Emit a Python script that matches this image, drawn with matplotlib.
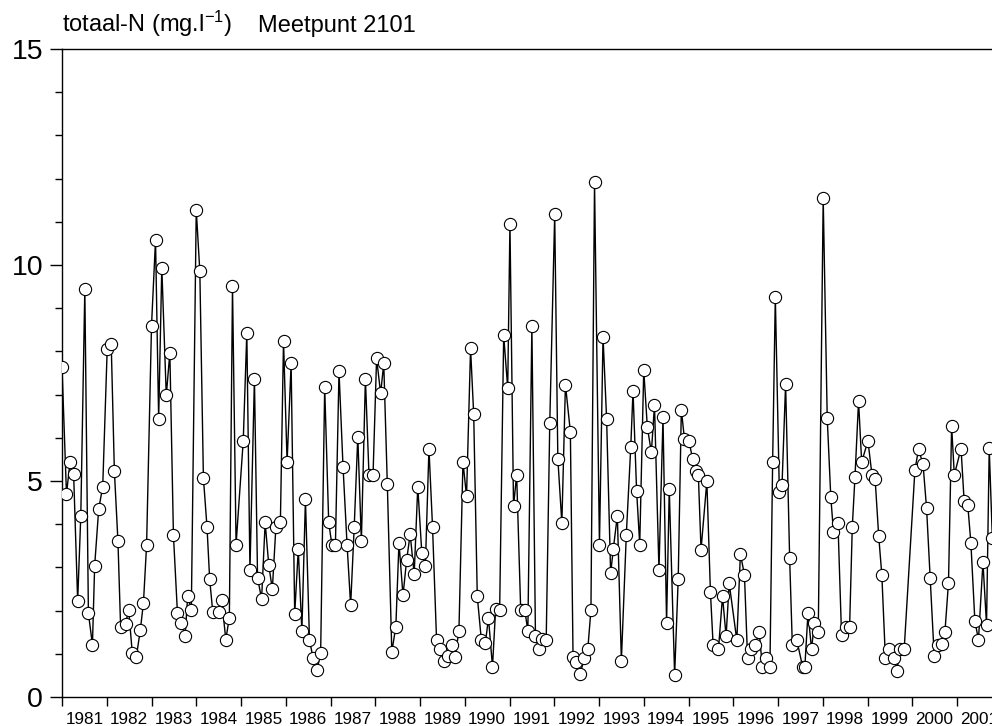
import matplotlib
matplotlib.use("Agg")
import matplotlib.pyplot as plt
from matplotlib.ticker import MultipleLocator, FixedLocator, NullFormatter

plt.rcParams['font.family'] = ['Liberation Sans', 'DejaVu Sans']
plt.rcParams['mathtext.fontset'] = 'custom'
plt.rcParams['mathtext.rm'] = 'Liberation Sans'
plt.rcParams['mathtext.it'] = 'Liberation Sans:italic'
plt.rcParams['mathtext.default'] = 'regular'

# sampling dates (decimal years) and total-N values (mg/l)
dates = [
    1981.00, 1981.10, 1981.18, 1981.26, 1981.35, 1981.42, 1981.51, 1981.59, 1981.68, 1981.73,
    1981.82, 1981.91, 1982.01, 1982.10, 1982.17, 1982.25, 1982.31, 1982.42, 1982.49, 1982.57,
    1982.66, 1982.75, 1982.82, 1982.89, 1983.00, 1983.09, 1983.16, 1983.23, 1983.33, 1983.41,
    1983.49, 1983.58, 1983.67, 1983.75, 1983.81, 1983.89, 1984.00, 1984.08, 1984.16, 1984.24,
    1984.30, 1984.37, 1984.50, 1984.57, 1984.66, 1984.74, 1984.81, 1984.89, 1985.05, 1985.13,
    1985.20, 1985.30, 1985.37, 1985.46, 1985.54, 1985.62, 1985.70, 1985.78, 1985.88, 1985.95,
    1986.03, 1986.12, 1986.20, 1986.28, 1986.36, 1986.44, 1986.53, 1986.61, 1986.70, 1986.78,
    1986.87, 1986.96, 1987.03, 1987.11, 1987.19, 1987.28, 1987.37, 1987.45, 1987.53, 1987.61,
    1987.69, 1987.78, 1987.86, 1987.95, 1988.03, 1988.12, 1988.19, 1988.27, 1988.37, 1988.46,
    1988.53, 1988.62, 1988.70, 1988.78, 1988.87, 1988.95, 1989.04, 1989.12, 1989.20, 1989.28,
    1989.37, 1989.45, 1989.54, 1989.62, 1989.71, 1989.78, 1989.87, 1989.96, 1990.04, 1990.13,
    1990.20, 1990.28, 1990.37, 1990.46, 1990.53, 1990.62, 1990.69, 1990.78, 1990.87, 1990.96,
    1991.01, 1991.09, 1991.16, 1991.25, 1991.34, 1991.41, 1991.50, 1991.58, 1991.65, 1991.72,
    1991.82, 1991.90, 1992.01, 1992.08, 1992.17, 1992.25, 1992.36, 1992.42, 1992.49, 1992.58,
    1992.67, 1992.75, 1992.82, 1992.90, 1993.01, 1993.09, 1993.17, 1993.26, 1993.32, 1993.41,
    1993.50, 1993.61, 1993.71, 1993.76, 1993.84, 1993.91, 1994.00, 1994.08, 1994.17, 1994.24,
    1994.34, 1994.43, 1994.51, 1994.57, 1994.69, 1994.77, 1994.84, 1994.91, 1995.01, 1995.09,
    1995.16, 1995.22, 1995.28, 1995.41, 1995.49, 1995.55, 1995.67, 1995.76, 1995.84, 1995.91,
    1996.08, 1996.16, 1996.25, 1996.32, 1996.39, 1996.49, 1996.58, 1996.65, 1996.73, 1996.82,
    1996.88, 1996.94, 1997.03, 1997.09, 1997.17, 1997.26, 1997.32, 1997.42, 1997.55, 1997.60,
    1997.67, 1997.75, 1997.81, 1997.90, 1998.01, 1998.10, 1998.18, 1998.24, 1998.34, 1998.42,
    1998.51, 1998.60, 1998.66, 1998.72, 1998.80, 1998.87, 1999.01, 1999.10, 1999.17, 1999.25,
    1999.32, 1999.40, 1999.47, 1999.60, 1999.66, 1999.72, 1999.82, 2000.06, 2000.14, 2000.24,
    2000.32, 2000.40, 2000.49, 2000.57, 2000.66, 2000.73, 2000.81, 2000.88, 2000.94, 2001.09,
    2001.16, 2001.24, 2001.31, 2001.40, 2001.48, 2001.58, 2001.66, 2001.72, 2001.79,
]
totaal_n = [
    7.64, 4.70, 5.44, 5.16, 2.22, 4.20, 9.45, 1.94, 1.21, 3.04,
    4.35, 4.87, 8.05, 8.17, 5.24, 3.61, 1.61, 1.69, 2.02, 1.02,
    0.92, 1.55, 2.18, 3.51, 8.59, 10.58, 6.44, 9.94, 6.98, 7.97,
    3.75, 1.94, 1.72, 1.41, 2.34, 2.02, 11.28, 9.85, 5.07, 3.94,
    2.72, 1.96, 1.96, 2.24, 1.33, 1.84, 9.51, 3.53, 5.93, 8.43,
    2.94, 7.37, 2.76, 2.27, 4.04, 3.06, 2.49, 3.94, 4.04, 8.25,
    5.44, 7.72, 1.92, 3.42, 1.53, 4.58, 1.33, 0.90, 0.63, 1.02,
    7.17, 4.04, 3.53, 3.53, 7.54, 5.33, 3.53, 2.12, 3.94, 6.03,
    3.61, 7.37, 5.14, 5.13, 7.84, 7.03, 7.72, 4.92, 1.04, 1.63,
    3.57, 2.35, 3.16, 3.77, 2.84, 4.87, 3.34, 3.04, 5.75, 3.94,
    1.32, 1.12, 0.84, 0.94, 1.21, 0.92, 1.53, 5.44, 4.65, 8.07,
    6.54, 2.33, 1.33, 1.24, 1.83, 0.70, 2.04, 2.02, 8.37, 7.15,
    10.96, 4.42, 5.14, 2.02, 2.02, 1.53, 8.58, 1.41, 1.10, 1.35,
    1.32, 6.35, 11.17, 5.52, 4.02, 7.23, 6.14, 0.92, 0.82, 0.53,
    0.90, 1.11, 2.02, 11.91, 3.53, 8.34, 6.44, 2.86, 3.43, 4.20,
    0.84, 3.75, 5.79, 7.09, 4.78, 3.53, 7.57, 6.25, 5.66, 6.76,
    2.94, 6.47, 1.72, 4.81, 0.51, 2.73, 6.65, 5.97, 5.93, 5.52,
    5.22, 5.14, 3.41, 4.99, 2.43, 1.21, 1.11, 2.33, 1.41, 2.63,
    1.31, 3.31, 2.83, 0.90, 1.11, 1.21, 1.51, 0.70, 0.90, 0.70,
    5.44, 9.27, 4.75, 4.91, 7.25, 3.22, 1.21, 1.32, 0.70, 0.70,
    1.95, 1.10, 1.72, 1.51, 11.55, 6.46, 4.62, 3.82, 4.02, 1.43,
    1.61, 1.62, 3.94, 5.09, 6.85, 5.44, 5.93, 5.14, 5.05, 3.73,
    2.83, 0.90, 1.11, 0.90, 0.61, 1.12, 1.11, 5.26, 5.73, 5.40,
    4.37, 2.75, 0.96, 1.21, 1.23, 1.50, 2.65, 6.27, 5.14, 5.75,
    4.53, 4.45, 3.57, 1.75, 1.33, 3.12, 1.67, 5.76, 3.67,
]

year_labels = [str(y) for y in range(1981, 2002)]
y_major = [0, 5, 10, 15]

fig = plt.figure(figsize=(9.92, 7.26), dpi=100)
W, H = 992.0, 726.0
x0_px, px_per_year = 62.0, 44.75
xmin, xmax = 1981.0, 2002.0
left = x0_px / W
width = (xmax - xmin) * px_per_year / W
bottom = 1 - 697.0 / H
height = (697.0 - 49.0) / H
ax = fig.add_axes([left, bottom, width, height])

ax.plot(dates, totaal_n, color='black', lw=1.0, marker='o', ms=8.8,
        mfc='white', mec='black', mew=0.8, zorder=3)

ax.set_xlim(xmin, xmax)
ax.set_ylim(0, 15)

for s in ax.spines.values():
    s.set_linewidth(1.0)

# x: ticks at year boundaries, labels centered in the year
ax.xaxis.set_major_locator(FixedLocator(list(range(1981, 2003))))
ax.xaxis.set_major_formatter(NullFormatter())
ax.xaxis.set_minor_locator(FixedLocator([y + 0.5 for y in range(1981, 2002)]))
ax.set_xticklabels(year_labels, minor=True)
ax.tick_params(axis='x', which='major', direction='out', length=6.5, width=1.0)
ax.tick_params(axis='x', which='minor', length=0, pad=11, labelsize=12.3)

ax.yaxis.set_major_locator(FixedLocator(y_major))
ax.yaxis.set_minor_locator(MultipleLocator(1))
ax.tick_params(axis='y', which='major', direction='out', length=8.5, width=1.0,
               labelsize=20.5, pad=5)
ax.tick_params(axis='y', which='minor', direction='out', length=5, width=1.0)

fig.text(62 / W, 1 - 32 / H, 'totaal-N (mg.l$^{-1}$)', fontsize=17, ha='left', va='baseline')
fig.text(258 / W, 1 - 32 / H, 'Meetpunt 2101', fontsize=17, ha='left', va='baseline')

fig.savefig('out.png', dpi=100)
